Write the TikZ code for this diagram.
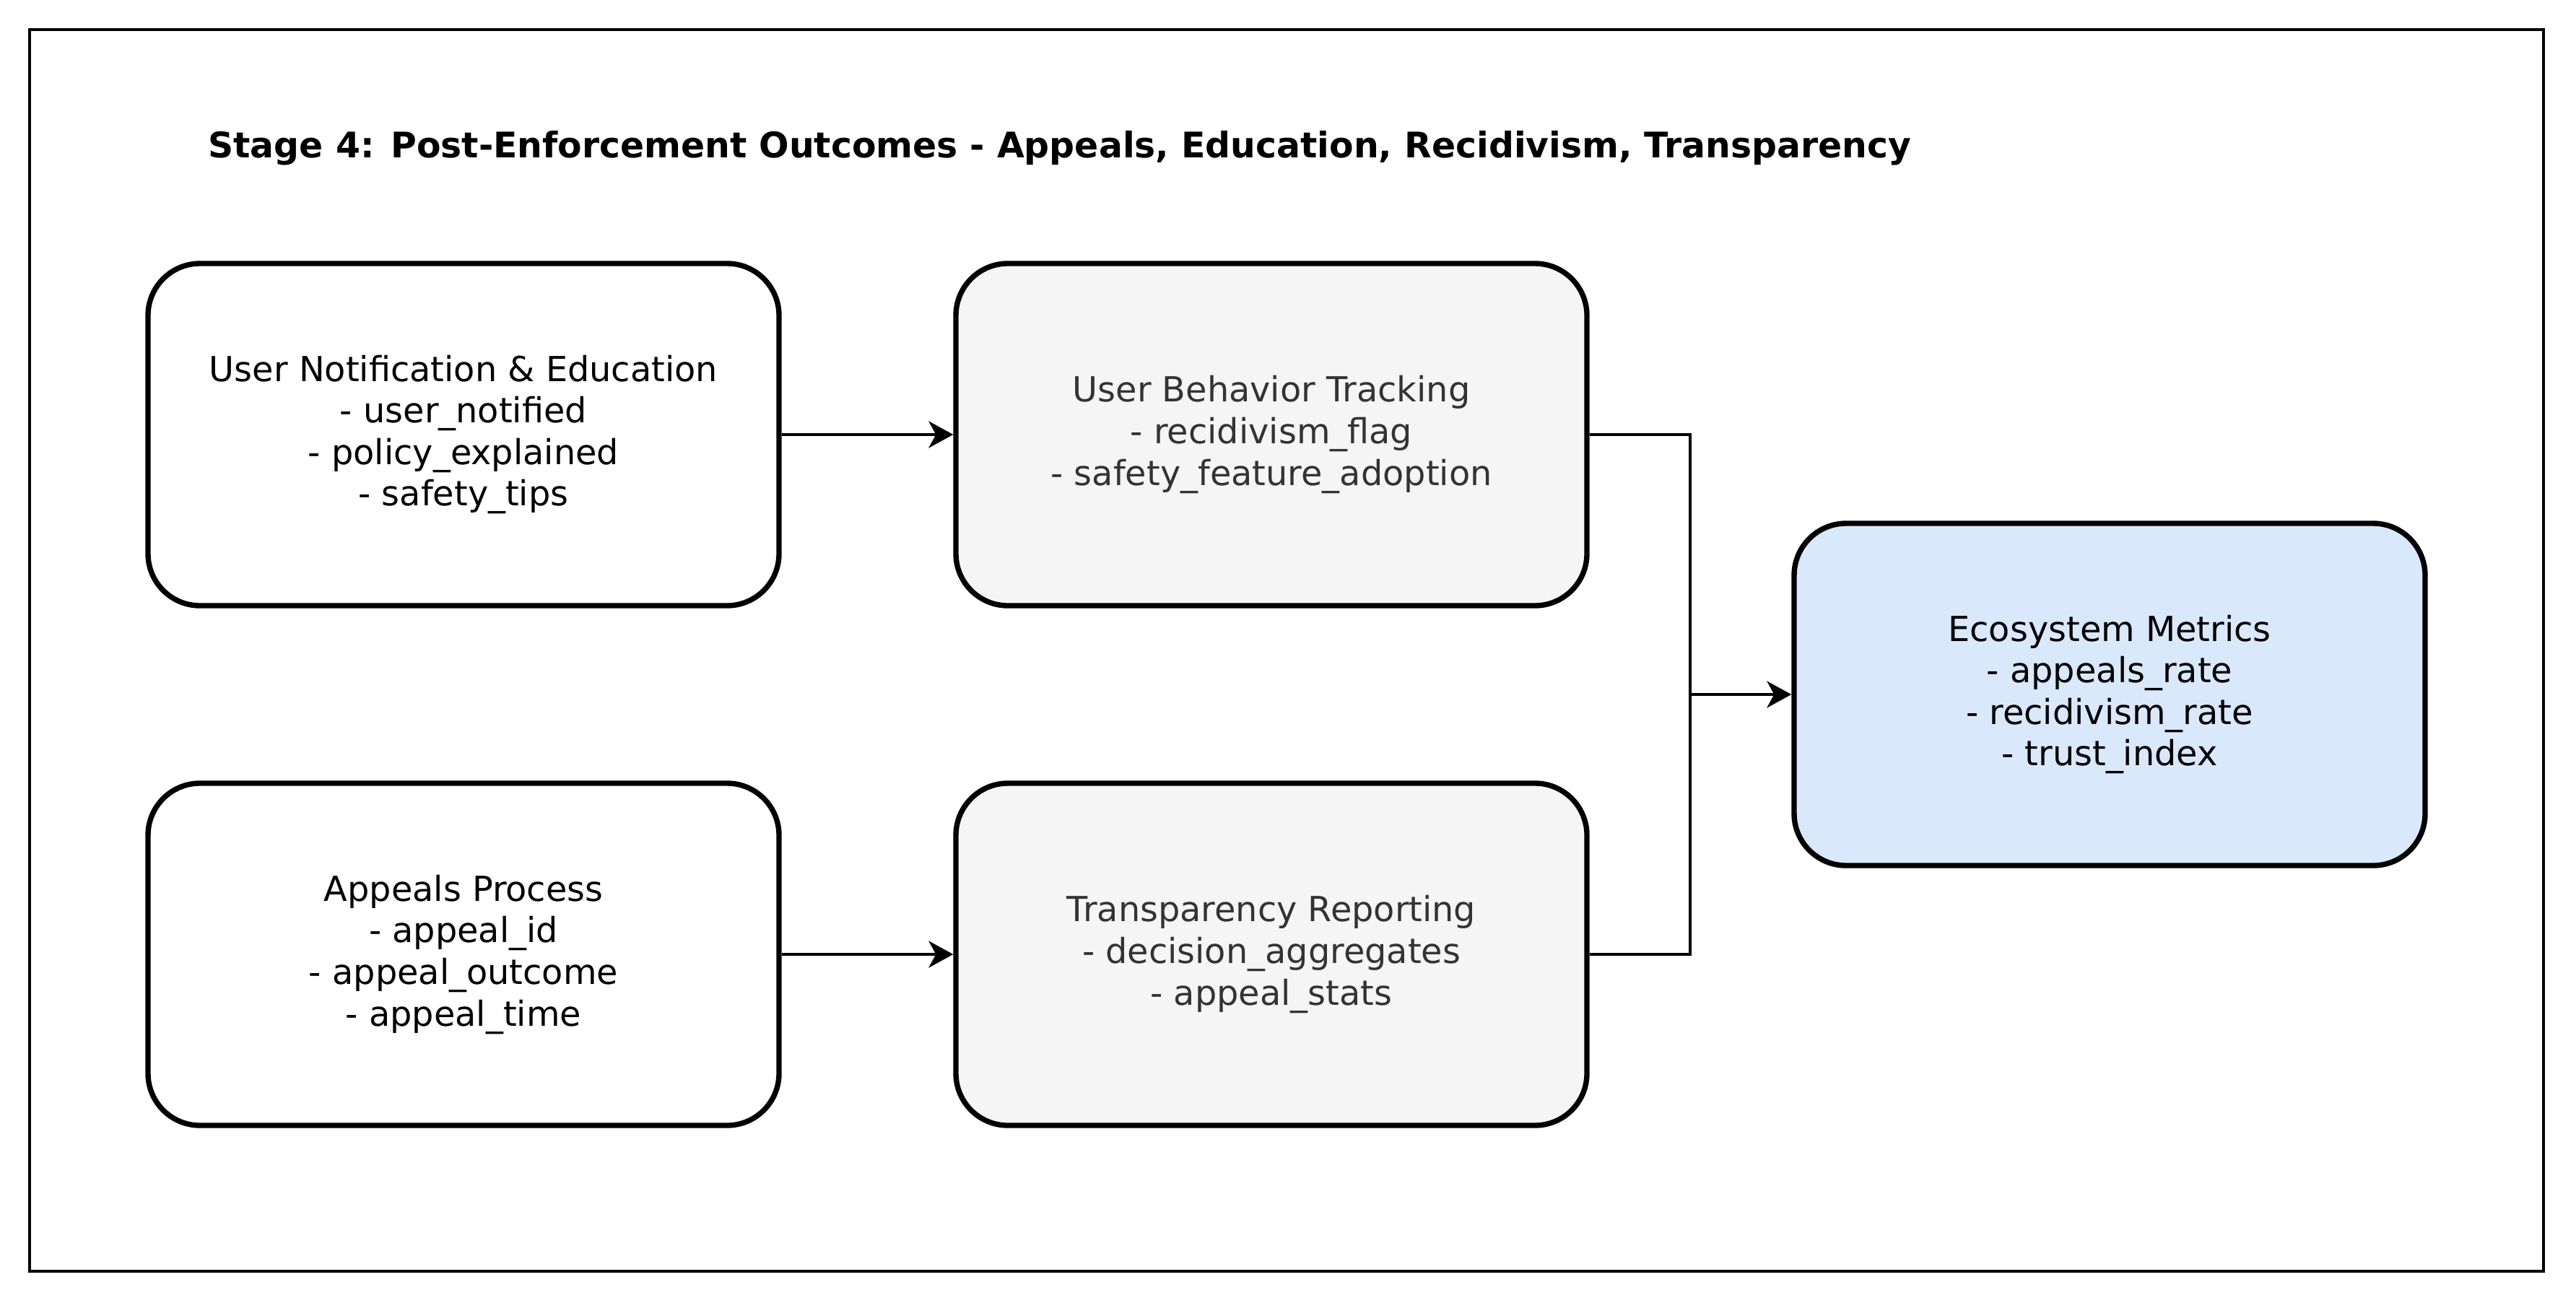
\documentclass[tikz,border=0pt]{standalone}
\usepackage{fontspec}
\setmainfont{DejaVu Sans}
\usetikzlibrary{arrows.meta,positioning}
\definecolor{Ink}{HTML}{333333}
\definecolor{Paper}{HTML}{F5F5F5}
\definecolor{Sky}{HTML}{DAE8FC}

\begin{document}
\begin{tikzpicture}[stagebox/.style={draw=black,line width=2.1pt,rounded corners=.72cm,minimum width=8.74cm,minimum height=4.74cm,align=center,font=\fontsize{13.6}{16.4}\selectfont},
    greybox/.style={stagebox,fill=Paper,text=Ink},
    link/.style={line width=1.1pt,-{Stealth[length=3.4mm,width=3.7mm,inset=1mm]}},
    wire/.style={line width=1.1pt}]
    \useasboundingbox (0,0) rectangle (35.68,-18.04);
    \draw[line width=1.1pt] (.41,-.41) rectangle (35.23,-17.61);
    \node[anchor=west,font=\fontsize{13.9}{16}\selectfont\bfseries] (title) at (2.76,-2.05) {Stage 4: Post-Enforcement Outcomes - Appeals, Education, Recidivism, Transparency};
    \node[stagebox] (notify) at (6.42,-6.02) {User Notification \& Education\\- user\_notified\\- policy\_explained\\- safety\_tips};
    \node[greybox] (track) at (17.61,-6.02) {User Behavior Tracking\\- recidivism\_flag\\- safety\_feature\_adoption};
    \node[stagebox] (appeal) at (6.42,-13.22) {Appeals Process\\- appeal\_id\\- appeal\_outcome\\- appeal\_time};
    \node[greybox] (report) at (17.61,-13.22) {Transparency Reporting\\- decision\_aggregates\\- appeal\_stats};
    \node[stagebox,fill=Sky] (metrics) at (29.22,-9.62) {Ecosystem Metrics\\- appeals\_rate\\- recidivism\_rate\\- trust\_index};
    \coordinate (join) at (23.41,-9.62);
    \draw[link] (notify) -- (track);
    \draw[link] (appeal) -- (report);
    \draw[wire] (track.east) -| (join);
    \draw[wire] (report.east) -| (join);
    \draw[link] (join) -- (metrics);
  \end{tikzpicture}
\end{document}
